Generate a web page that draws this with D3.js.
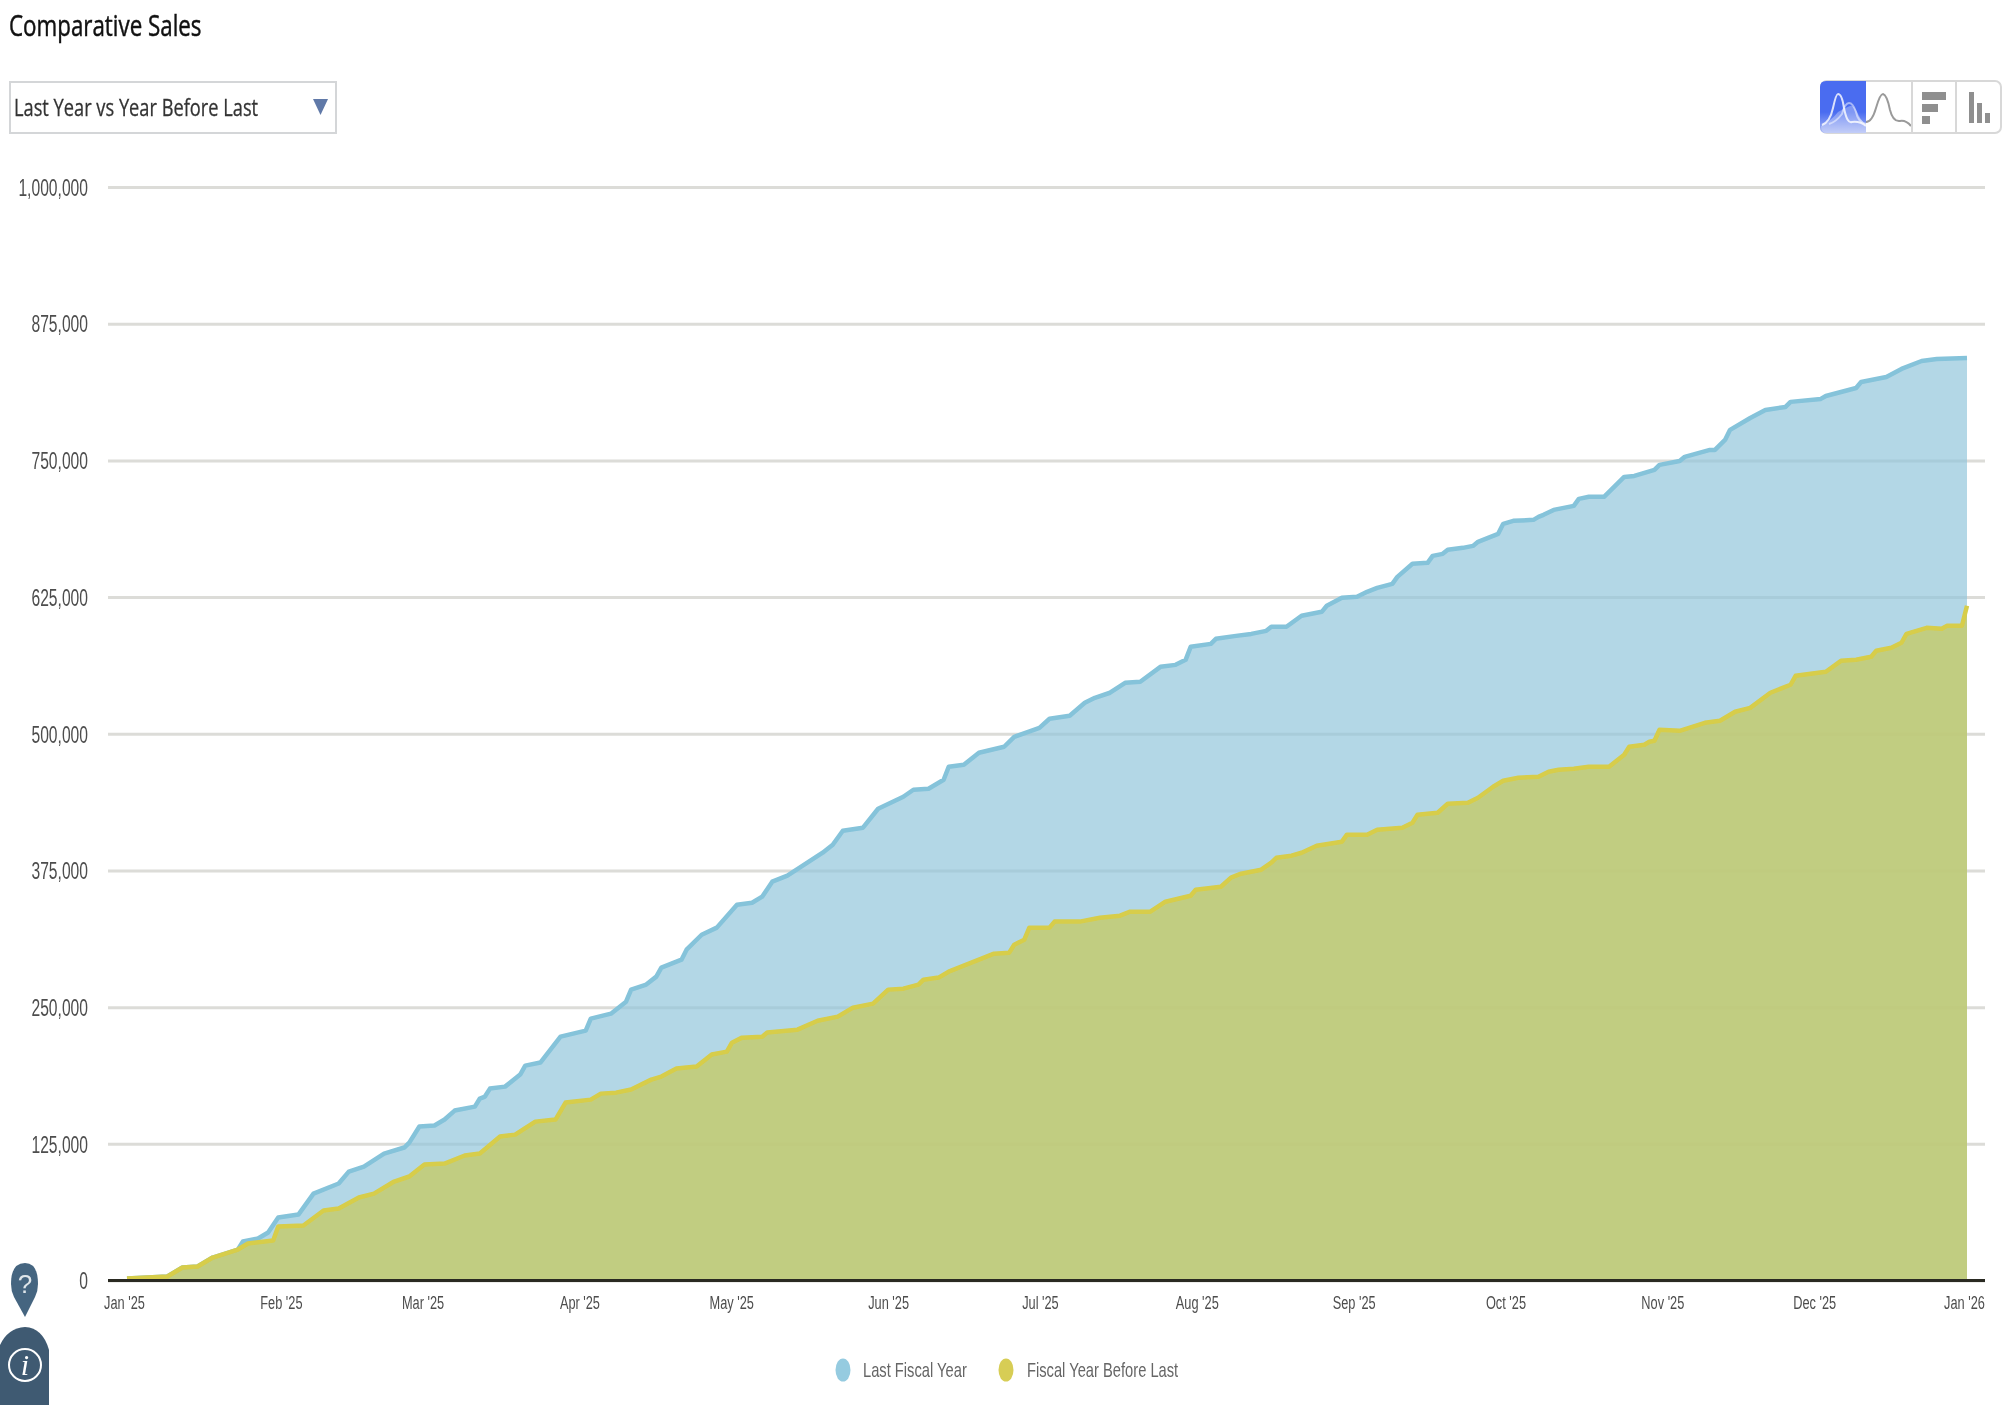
<!DOCTYPE html>
<html>
<head>
<meta charset="utf-8">
<title>Comparative Sales</title>
<script src="https://cdn.jsdelivr.net/npm/d3@7"></script>
<style>
	html, body { margin: 0; padding: 0; background: #fff; }
	svg { display: block; filter: blur(0.6px); }
</style>
</head>
<body>
<div id="chart"></div>
<script>
// days since 1 Jan 2025 and cumulative sales
var lastDays = [0,8,11,14,17,22,23,26,28,30,34,37,42,44,47,51,55,56,58,61,63,65,69,70,71,72,75,78,79,82,86,91,92,96,99,100,103,105,106,110,111,114,117,121,124,126,128,131,138,140,142,146,149,154,156,159,162,163,166,169,174,176,181,183,187,190,192,195,198,201,205,208,210,211,215,216,220,223,226,227,230,233,237,238,241,244,246,248,251,252,255,258,259,261,262,265,267,268,272,273,275,279,280,281,283,287,288,290,293,297,299,303,304,308,309,314,315,317,318,322,325,329,330,336,337,343,344,349,352,356,359,365];
var lastValues = [1800,3700,11900,12800,21000,28300,35600,38400,43900,57600,60300,79500,88700,99600,104200,116100,121600,126100,140800,141700,147200,155400,159000,166400,168200,175500,177300,188300,196500,199300,223000,228500,239500,244000,255000,266000,270600,277900,286100,293400,302500,316200,322700,343700,345500,351000,364700,370200,391200,398500,411300,414100,431400,442400,448800,449700,457900,469800,471600,482600,488100,497200,505400,513700,516400,528300,532900,537500,546600,547500,561200,563000,567600,579500,582200,586800,589500,591300,594100,597800,597800,607900,611500,617000,624300,625200,629800,633400,637100,643500,655400,656300,662700,664500,668200,670000,671800,675500,682800,692000,694700,695600,698300,700200,704700,708400,714800,716700,716700,734900,735800,741300,745900,749500,753200,759600,759600,768700,777900,788800,796100,798900,803500,806200,808900,816200,821700,826300,833600,840900,842700,843600];
var beforeDays = [0,8,11,14,17,22,24,29,30,35,39,42,46,49,53,56,59,63,67,70,74,77,81,85,87,92,94,97,100,104,106,109,113,116,119,120,122,126,127,133,137,141,144,148,151,154,157,158,161,163,170,172,175,176,178,179,183,184,189,193,197,199,203,206,211,212,217,219,221,225,227,228,231,233,236,241,242,246,248,253,255,256,260,262,266,268,271,273,276,280,282,284,287,290,294,297,298,301,302,303,304,308,313,316,319,322,326,330,331,337,340,343,346,347,350,352,353,357,360,361,364,365];
var beforeValues = [1800,3700,11900,12800,21000,28300,33800,36600,49400,50300,64000,65800,75900,79500,90500,95100,106000,106900,114300,116100,131600,133400,145300,147200,162700,165400,170900,171800,174600,183700,186500,193800,195600,206600,209300,217500,222100,223000,226700,229400,237600,241300,249500,253200,266000,266900,270600,275100,277000,282400,295200,298900,299800,307100,311700,322700,322700,328200,328200,331800,333600,337300,337300,346400,351900,357400,360100,368400,372000,375700,382100,386600,388500,391200,397600,401300,407700,407700,412200,414100,418600,426000,427800,436000,436900,441500,451500,457000,459800,460700,465300,467100,468000,469800,469800,480800,488100,489900,492700,493600,503600,502700,510000,511900,520100,523700,537500,544800,553000,556700,566700,567600,570400,575900,578600,583200,591400,596900,596000,598700,598700,617000];
var yTicks = [0,125000,250000,375000,500000,625000,750000,875000,1000000];
var legendNames = ["Last Fiscal Year","Fiscal Year Before Last"];

var width = 2015, height = 1405;
var start = new Date(2025,0,1), end = new Date(2026,0,1);

var svg = d3.select("#chart").append("svg").attr("width",width).attr("height",height);

var x = d3.scaleTime().domain([start,end]).range([127,1967]);
// month labels sit a little wider apart than the plotted days
var xLabels = d3.scaleTime().domain([start,end]).range([124,1971]);
var y = d3.scaleLinear().domain([0,1000000]).range([1280.5,187]);

function rows(days,values){
	return days.map(function(d,i){ return {date:d3.timeDay.offset(start,d), value:values[i]}; });
}
var lastYear = rows(lastDays,lastValues);
var beforeLast = rows(beforeDays,beforeValues);

// the reference is a squashed screenshot, so all text runs narrow
function squeeze(sel,k){
	sel.each(function(){
		var t = d3.select(this);
		t.attr("lengthAdjust","spacingAndGlyphs").attr("textLength",this.getComputedTextLength()*k);
	});
}

// grid and y labels
var yAxis = svg.append("g").attr("transform","translate(108,0)")
	.call(d3.axisLeft(y).tickValues(yTicks).tickFormat(d3.format(",")).tickSize(-1877).tickPadding(20));
yAxis.select(".domain").remove();
yAxis.selectAll("line").attr("stroke","#dcdcd8").attr("stroke-width",3);
yAxis.selectAll("text").attr("font-family","Liberation Sans").attr("font-size",23).attr("fill","#4d4d4d").attr("y",0).attr("dy","0.36em").call(squeeze,0.68);

var area = d3.area().x(function(d){ return x(d.date); }).y0(y(0)).y1(function(d){ return y(d.value); });
var line = d3.line().x(function(d){ return x(d.date); }).y(function(d){ return y(d.value); });

svg.append("path").datum(lastYear).attr("d",area).attr("fill","#8fc4da").attr("fill-opacity",0.68);
svg.append("path").datum(lastYear).attr("d",line).attr("fill","none").attr("stroke","#85c3da").attr("stroke-width",4.5).attr("stroke-linejoin","round");
svg.append("path").datum(beforeLast).attr("d",area).attr("fill","#c6ca68").attr("fill-opacity",0.8);
svg.append("path").datum(beforeLast).attr("d",line).attr("fill","none").attr("stroke","#d7cd4a").attr("stroke-width",4.5).attr("stroke-linejoin","round");

// x axis
var xAxis = svg.append("g").attr("transform","translate(0,1281)")
	.call(d3.axisBottom(xLabels).tickValues(d3.timeMonth.range(start,d3.timeMonth.offset(end,1))).tickFormat(d3.timeFormat("%b '%y")).tickSize(0).tickPadding(15));
xAxis.select(".domain").remove();
xAxis.selectAll("text").attr("font-family","Liberation Sans").attr("font-size",18).attr("fill","#4d4d4d")
	.attr("dx",function(d){ return +d === +end ? -7 : 0; }).call(squeeze,0.71);
svg.append("line").attr("x1",108).attr("x2",1985).attr("y1",y(0)).attr("y2",y(0)).attr("stroke","#2a2a22").attr("stroke-width",3);

// legend
var legendColors = ["#95cbe0","#d7cd55"];
var legendCx = [843,1006], legendTx = [863,1027];
legendNames.forEach(function(name,i){
	svg.append("ellipse").attr("cx",legendCx[i]).attr("cy",1370).attr("rx",7.5).attr("ry",11.5).attr("fill",legendColors[i]);
	svg.append("text").attr("x",legendTx[i]).attr("y",1377).text(name)
		.attr("font-family","Liberation Sans").attr("font-size",21).attr("fill","#666").call(squeeze,0.70);
});

// title and dropdown
svg.append("text").attr("x",9).attr("y",36).text("Comparative Sales")
	.attr("font-family","Open Sans").attr("font-size",30).attr("fill","#111").attr("stroke","#111").attr("stroke-width",0.5).call(squeeze,0.745);
svg.append("rect").attr("x",10).attr("y",82).attr("width",326).attr("height",51).attr("fill","#fff").attr("stroke","#d4d6d8").attr("stroke-width",2);
svg.append("text").attr("x",14).attr("y",116).text("Last Year vs Year Before Last")
	.attr("font-family","Open Sans").attr("font-size",24).attr("fill","#333").attr("stroke","#333").attr("stroke-width",0.3).call(squeeze,0.76);
svg.append("path").attr("d","M313,99H328L320.5,115Z").attr("fill","#6079a8");

// chart type buttons
var btn = svg.append("g");
var grad = svg.append("defs").append("linearGradient").attr("id","active").attr("x1",0).attr("x2",0).attr("y1",0).attr("y2",1);
grad.append("stop").attr("offset","0.6").attr("stop-color","#4a6cf0");
grad.append("stop").attr("offset","1").attr("stop-color","#a9b8f5");
btn.append("rect").attr("x",1821).attr("y",81).attr("width",180).attr("height",52).attr("rx",6).attr("fill","#fff").attr("stroke","#d8d8d8").attr("stroke-width",2);
btn.append("path").attr("d","M1826,81H1866V133H1826Q1820,133 1820,127V87Q1820,81 1826,81Z").attr("fill","url(#active)");
btn.append("path").attr("d","M1821,126Q1832,120 1838,112Q1845,108 1850,106Q1854,104 1858,114Q1862,122 1866,124V133H1826Q1821,133 1821,126Z").attr("fill","#fff").attr("fill-opacity",0.3);
btn.append("path").attr("d","M1822,125Q1830,122 1833,108Q1836,94 1838,94Q1842,94 1844,108Q1847,124 1852,122Q1860,121 1866,126").attr("fill","none").attr("stroke","#fff").attr("stroke-opacity",0.8).attr("stroke-width",2);
btn.append("path").attr("d","M1829,124Q1836,122 1842,114Q1845,103 1849,103Q1853,103 1856,112Q1858,122 1866,124").attr("fill","none").attr("stroke","#fff").attr("stroke-opacity",0.5).attr("stroke-width",2);
btn.append("path").attr("d","M1866,122Q1872,122 1876,108Q1880,94 1883,94Q1887,95 1890,110Q1893,122 1900,121Q1906,120 1911,126").attr("fill","none").attr("stroke","#9a9a9a").attr("stroke-width",2);
[1912,1956].forEach(function(d){
	btn.append("line").attr("x1",d).attr("x2",d).attr("y1",82).attr("y2",132).attr("stroke","#d8d8d8").attr("stroke-width",2);
});
[[1922,24],[1922,16],[1922,8]].forEach(function(b,i){
	btn.append("rect").attr("x",b[0]).attr("y",92+i*12).attr("width",b[1]).attr("height",8).attr("fill","#8f8f8f");
});
[[1969,31],[1977,20],[1985,10]].forEach(function(b){
	btn.append("rect").attr("x",b[0]).attr("y",123-b[1]).attr("width",5).attr("height",b[1]).attr("fill","#8f8f8f");
});

// help pin and info tab
svg.append("path").attr("d","M25,1317L14,1297Q11,1291 11,1284Q11,1263 25,1263Q38,1263 38,1284Q38,1291 35,1297Z").attr("fill","#456580");
svg.append("text").attr("x",25).attr("y",1293).attr("text-anchor","middle").text("?")
	.attr("font-family","Liberation Sans").attr("font-size",26).attr("fill","#dfe6ea");
svg.append("path").attr("d","M0,1405V1345Q8,1328 25,1327Q43,1328 49,1350V1405Z").attr("fill","#3f5a72");
svg.append("circle").attr("cx",25).attr("cy",1365).attr("r",16).attr("fill","none").attr("stroke","#fff").attr("stroke-width",2);
svg.append("text").attr("x",25).attr("y",1375).attr("text-anchor","middle").text("i")
	.attr("font-family","Liberation Serif").attr("font-style","italic").attr("font-size",30).attr("fill","#fff");
</script>
</body>
</html>
